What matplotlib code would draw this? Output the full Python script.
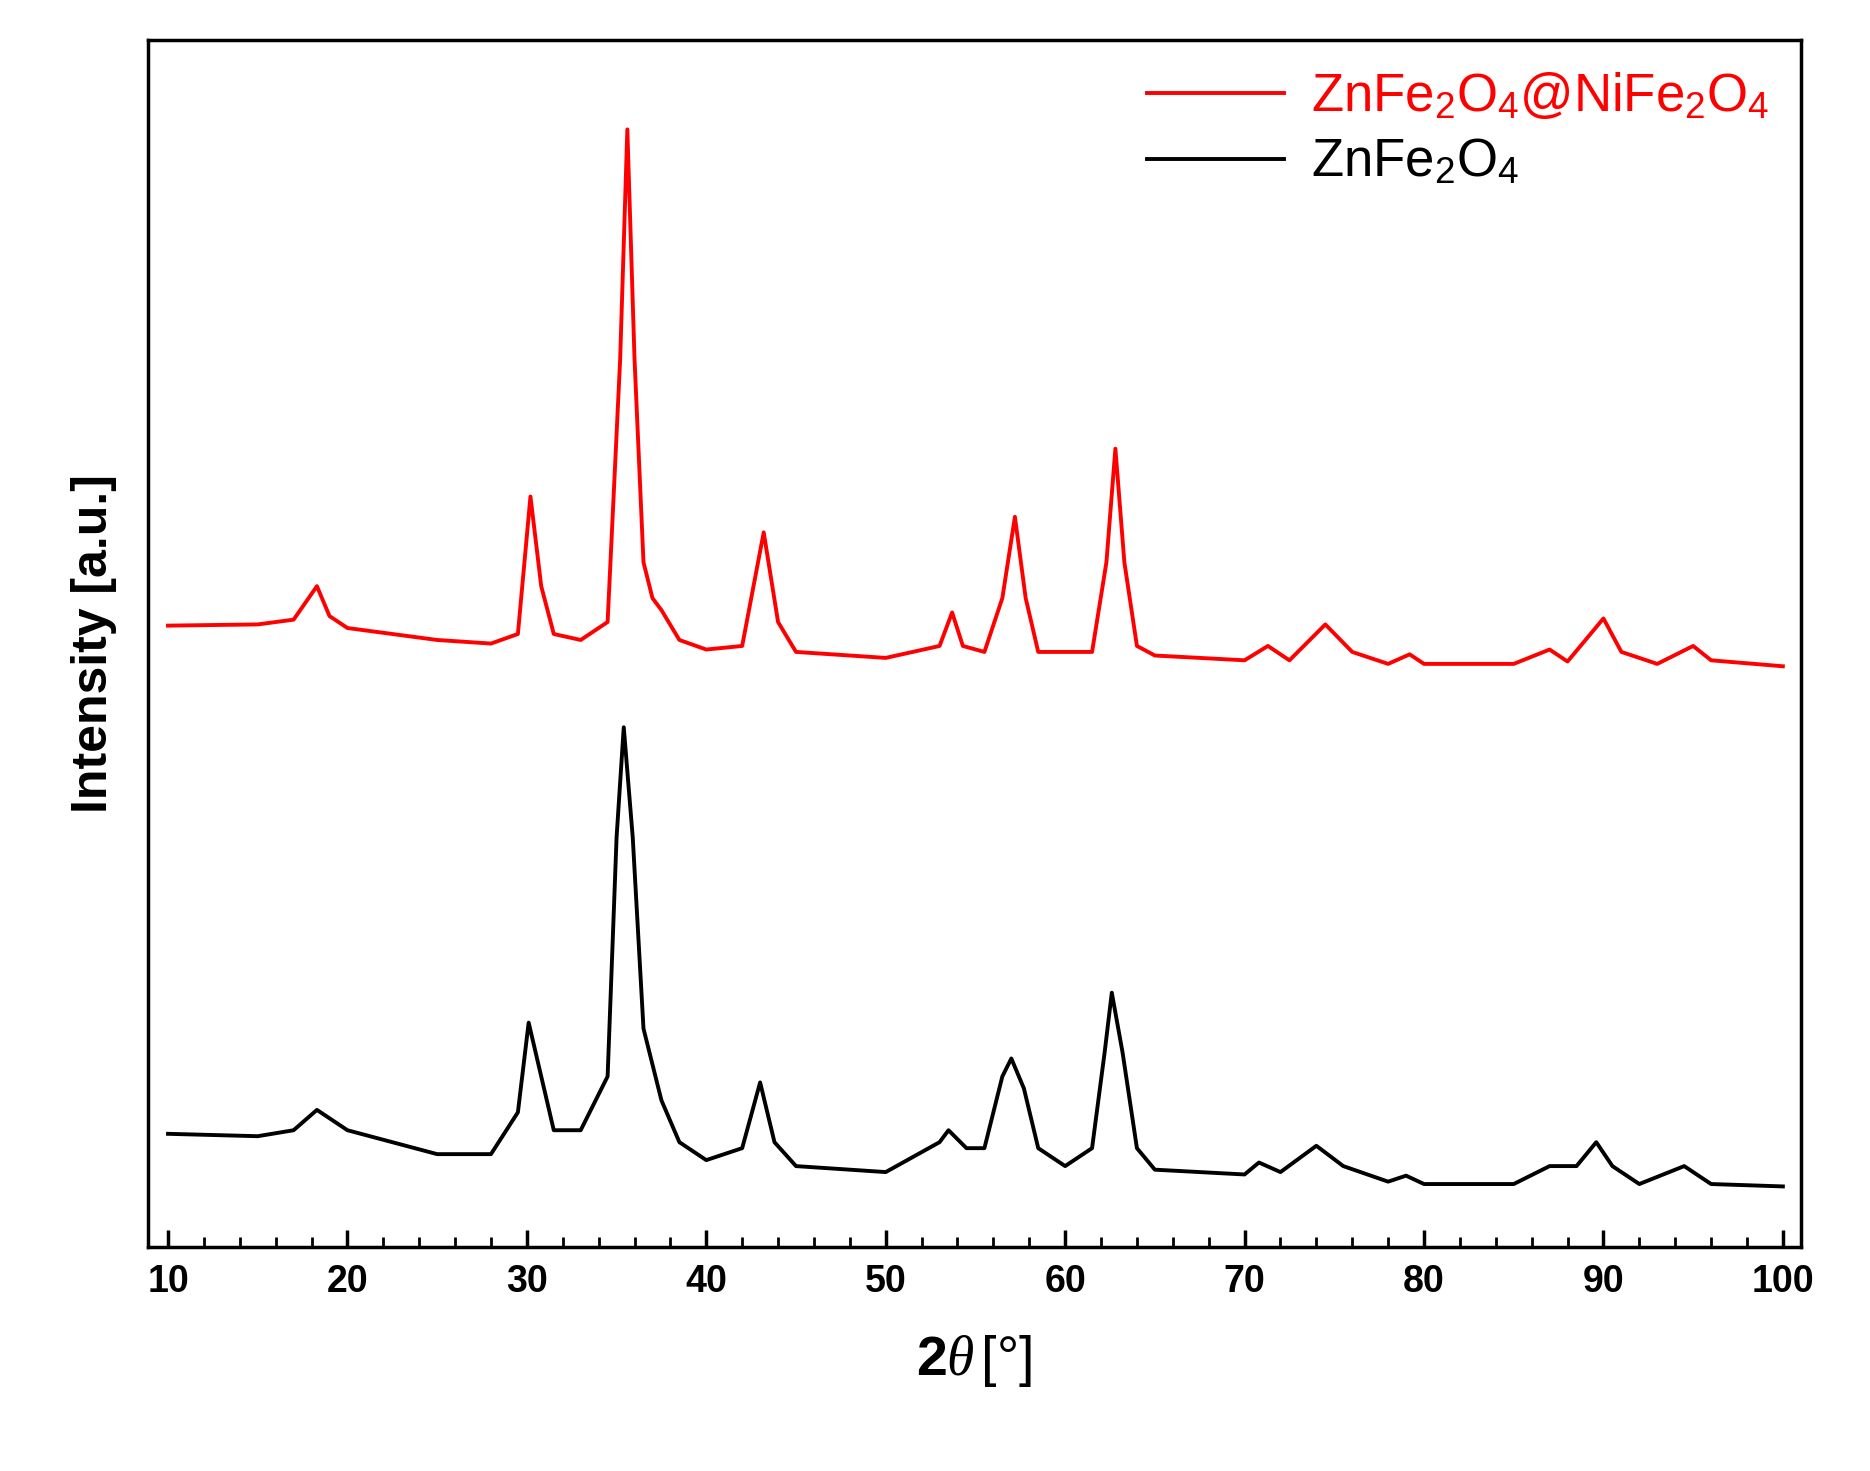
import matplotlib

matplotlib.use("Agg")
import matplotlib.pyplot as plt
from matplotlib.ticker import MultipleLocator

plt.rcParams["font.family"] = ["Liberation Sans", "DejaVu Sans"]
plt.rcParams["mathtext.fontset"] = "custom"
plt.rcParams["mathtext.rm"] = "Liberation Sans"
plt.rcParams["mathtext.it"] = "Liberation Serif:italic"
plt.rcParams["mathtext.bf"] = "Liberation Sans:bold"

# Knots: 2theta and intensity (arbitrary units)
red_theta = [10, 15, 17, 18.3, 19, 20, 25, 28, 29.5, 30.2, 30.8, 31.5, 33, 34.5,
             35.2, 35.6, 36, 36.5, 37, 37.5, 38.5, 40, 42, 43.2, 44, 45, 50, 53,
             53.7, 54.3, 55.5, 56.5, 57.2, 57.8, 58.5, 61.5, 62.3, 62.8, 63.3, 64,
             65, 70, 71.3, 72.5, 74.5, 76, 78, 79.2, 80, 85, 87, 88, 90, 91, 93,
             95, 96, 100]
red_int = [520, 521, 525, 553, 528, 518, 508, 505, 513, 628, 553, 513, 508, 523,
           743, 935, 743, 573, 543, 533, 508, 500, 503, 598, 523, 498, 493, 503,
           531, 503, 498, 543, 611, 543, 498, 498, 573, 668, 573, 503, 495, 491,
           503, 491, 521, 498, 488, 496, 488, 488, 500, 490, 526, 498, 488, 503,
           491, 486]

black_theta = [10, 15, 17, 18.3, 20, 25, 28, 29.5, 30.1, 30.8, 31.5, 33, 34.5,
               35.0, 35.4, 35.9, 36.5, 37.5, 38.5, 40, 42, 43.0, 43.8, 45, 50, 53,
               53.5, 54.5, 55.5, 56.5, 57.0, 57.7, 58.5, 60, 61.5, 62.2, 62.6, 63.2,
               64, 65, 70, 70.8, 72, 74, 75.5, 78, 79, 80, 85, 87, 88.5, 89.6, 90.5,
               92, 94.5, 96, 100]
black_int = [95, 93, 98, 115, 98, 78, 78, 113, 188, 143, 98, 98, 143, 343, 435,
             343, 183, 123, 88, 73, 83, 138, 88, 68, 63, 88, 98, 83, 83, 143, 158,
             133, 83, 68, 83, 163, 213, 163, 83, 65, 61, 71, 63, 85, 68, 55, 60,
             53, 53, 68, 68, 88, 68, 53, 68, 53, 51]

fig = plt.figure(figsize=(18.7, 14.71), dpi=100)
ax = fig.add_axes([0.079, 0.152, 0.884, 0.821])

ax.plot(red_theta, red_int, color="#ff0000", linewidth=2.8,
        label=r"ZnFe$_2$O$_4$@NiFe$_2$O$_4$")
ax.plot(black_theta, black_int, color="black", linewidth=2.8,
        label=r"ZnFe$_2$O$_4$")

ax.set_xlim(8.87, 101)
ax.set_ylim(0, 1010)
ax.xaxis.set_major_locator(MultipleLocator(10))
ax.xaxis.set_minor_locator(MultipleLocator(2))
ax.set_yticks([])
ax.tick_params(axis="x", which="major", direction="in", length=12, width=2.5,
               labelsize=27, pad=12)
ax.tick_params(axis="x", which="minor", direction="in", length=7, width=2)
for label in ax.get_xticklabels():
    label.set_fontweight("bold")
for spine in ax.spines.values():
    spine.set_linewidth(2.5)

ax.set_xlabel(r"$\mathbf{2}\mathit{\theta}\,$[°]", fontsize=40, labelpad=24)
ax.set_ylabel("Intensity [a.u.]", fontsize=36, fontweight="bold", labelpad=22)

leg = ax.legend(loc="upper right", fontsize=38, frameon=False, handlelength=2.6,
                handletextpad=0.5, borderaxespad=0.2, labelspacing=0.3)
leg.get_texts()[0].set_color("#ff0000")

fig.savefig("out.png", dpi=100)
